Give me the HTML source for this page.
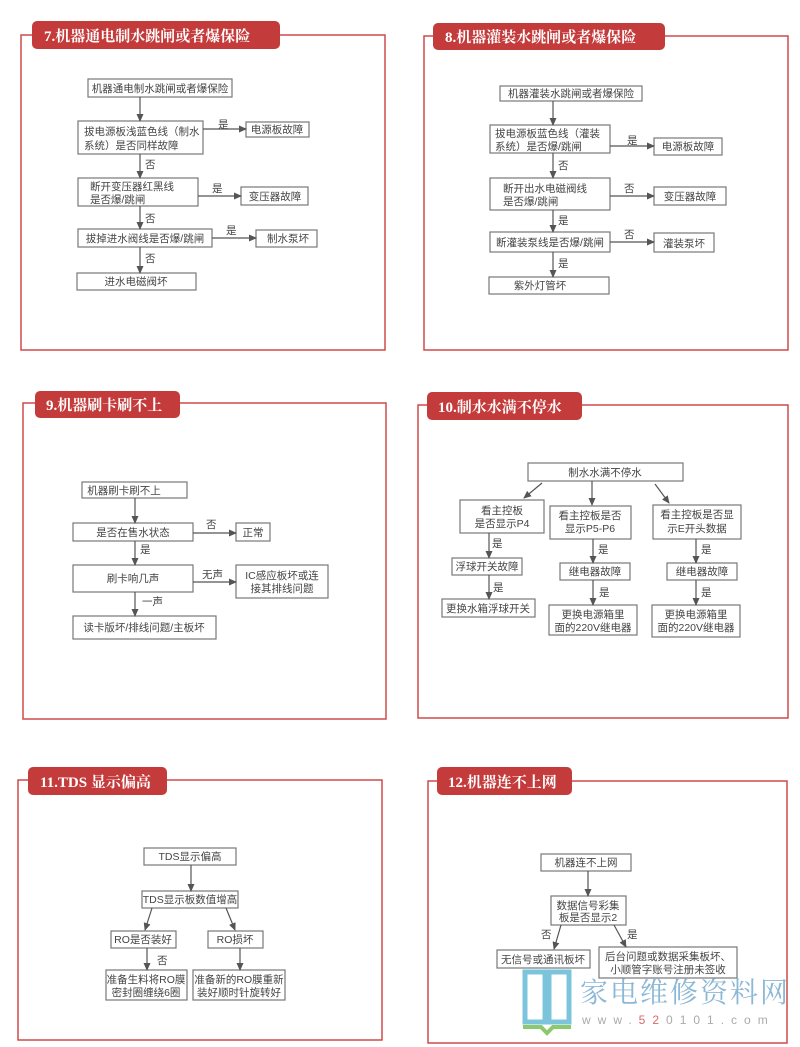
<!DOCTYPE html>
<html><head><meta charset="utf-8"><style>
html,body{margin:0;padding:0;background:#fff;}
svg{display:block}
text{font-family:"Liberation Sans","Noto Sans CJK SC",sans-serif;}
.b{fill:#fff;stroke:#777;stroke-width:1.2}
.t{font-size:10.5px;fill:#444;text-anchor:middle}
.l{font-size:10.5px;fill:#444}
.ln{stroke:#555;stroke-width:1.2;fill:none;marker-end:url(#a)}
.fr{fill:none;stroke:#cf4a4a;stroke-width:1.5}
.tb{fill:#c43b3b}
.tt{font-size:15px;font-weight:bold;fill:#fff;font-family:"Liberation Serif","Noto Serif CJK SC",serif}
</style></head><body>
<svg width="800" height="1047" viewBox="0 0 800 1047" xmlns="http://www.w3.org/2000/svg">
<defs><marker id="a" markerWidth="8" markerHeight="8" refX="7" refY="4" orient="auto" markerUnits="userSpaceOnUse"><path d="M0,0.5 L8,4 L0,7.5z" fill="#555"/></marker></defs>

<!-- P7 -->
<rect class="fr" x="21" y="35" width="364" height="315"/>
<rect class="tb" x="32" y="21" width="248" height="28" rx="5"/>
<text class="tt" x="44" y="41">7.机器通电制水跳闸或者爆保险</text>
<rect class="b" x="88" y="79" width="144" height="18"/><text class="t" x="160" y="92">机器通电制水跳闸或者爆保险</text>
<rect class="b" x="78" y="121" width="125" height="33"/><text class="l" x="84" y="135">拔电源板浅蓝色线（制水</text><text class="l" x="84" y="149">系统）是否同样故障</text>
<rect class="b" x="246" y="122" width="63" height="15"/><text class="t" x="277" y="133">电源板故障</text>
<rect class="b" x="78" y="178" width="120" height="28"/><text class="l" x="90" y="190">断开变压器红黑线</text><text class="l" x="90" y="203">是否爆/跳闸</text>
<rect class="b" x="241" y="187" width="67" height="18"/><text class="t" x="275" y="200">变压器故障</text>
<rect class="b" x="78" y="229" width="134" height="18"/><text class="t" x="145" y="242">拔掉进水阀线是否爆/跳闸</text>
<rect class="b" x="256" y="230" width="61" height="17"/><text class="t" x="288" y="242">制水泵坏</text>
<rect class="b" x="77" y="273" width="119" height="17"/><text class="t" x="136" y="285">进水电磁阀坏</text>
<line class="ln" x1="140" y1="97" x2="140" y2="121"/>
<line class="ln" x1="140" y1="154" x2="140" y2="178"/>
<line class="ln" x1="140" y1="206" x2="140" y2="229"/>
<line class="ln" x1="140" y1="247" x2="140" y2="273"/>
<line class="ln" x1="203" y1="129" x2="246" y2="129"/>
<line class="ln" x1="198" y1="196" x2="241" y2="196"/>
<line class="ln" x1="212" y1="238" x2="256" y2="238"/>
<text class="l" x="218" y="128">是</text><text class="l" x="145" y="168">否</text>
<text class="l" x="212" y="192">是</text><text class="l" x="145" y="222">否</text>
<text class="l" x="226" y="234">是</text><text class="l" x="145" y="262">否</text>

<!-- P8 -->
<rect class="fr" x="424" y="36" width="364" height="314"/>
<rect class="tb" x="433" y="23" width="232" height="27" rx="5"/>
<text class="tt" x="445" y="42">8.机器灌装水跳闸或者爆保险</text>
<rect class="b" x="500" y="86" width="142" height="15"/><text class="t" x="571" y="97">机器灌装水跳闸或者爆保险</text>
<rect class="b" x="490" y="125" width="120" height="28"/><text class="l" x="495" y="137">拔电源板蓝色线（灌装</text><text class="l" x="495" y="150">系统）是否爆/跳闸</text>
<rect class="b" x="654" y="138" width="68" height="17"/><text class="t" x="688" y="150">电源板故障</text>
<rect class="b" x="490" y="178" width="120" height="32"/><text class="l" x="503" y="192">断开出水电磁阀线</text><text class="l" x="503" y="205">是否爆/跳闸</text>
<rect class="b" x="654" y="187" width="72" height="18"/><text class="t" x="690" y="200">变压器故障</text>
<rect class="b" x="490" y="232" width="120" height="20"/><text class="t" x="550" y="246">断灌装泵线是否爆/跳闸</text>
<rect class="b" x="654" y="233" width="60" height="19"/><text class="t" x="684" y="247">灌装泵坏</text>
<rect class="b" x="489" y="277" width="120" height="17"/><text class="t" x="540" y="289">紫外灯管坏</text>
<line class="ln" x1="553" y1="101" x2="553" y2="125"/>
<line class="ln" x1="553" y1="153" x2="553" y2="178"/>
<line class="ln" x1="553" y1="210" x2="553" y2="232"/>
<line class="ln" x1="553" y1="252" x2="553" y2="277"/>
<line class="ln" x1="610" y1="146" x2="654" y2="146"/>
<line class="ln" x1="610" y1="196" x2="654" y2="196"/>
<line class="ln" x1="610" y1="242" x2="654" y2="242"/>
<text class="l" x="627" y="144">是</text><text class="l" x="558" y="169">否</text>
<text class="l" x="624" y="192">否</text><text class="l" x="558" y="224">是</text>
<text class="l" x="624" y="238">否</text><text class="l" x="558" y="267">是</text>

<!-- P9 -->
<rect class="fr" x="23" y="403" width="363" height="316"/>
<rect class="tb" x="35" y="391" width="145" height="27" rx="5"/>
<text class="tt" x="46" y="410">9.机器刷卡刷不上</text>
<rect class="b" x="82" y="482" width="105" height="16"/><text class="t" x="124" y="494">机器刷卡刷不上</text>
<rect class="b" x="73" y="523" width="120" height="18"/><text class="t" x="133" y="536">是否在售水状态</text>
<rect class="b" x="236" y="523" width="34" height="18"/><text class="t" x="253" y="536">正常</text>
<rect class="b" x="73" y="565" width="120" height="27"/><text class="t" x="133" y="582">刷卡响几声</text>
<rect class="b" x="236" y="565" width="92" height="33"/><text class="t" x="282" y="579">IC感应板坏或连</text><text class="t" x="282" y="592">接其排线问题</text>
<rect class="b" x="73" y="616" width="143" height="23"/><text class="t" x="144" y="631">读卡版坏/排线问题/主板坏</text>
<line class="ln" x1="135" y1="498" x2="135" y2="523"/>
<line class="ln" x1="135" y1="541" x2="135" y2="565"/>
<line class="ln" x1="135" y1="592" x2="135" y2="616"/>
<line class="ln" x1="193" y1="533" x2="236" y2="533"/>
<line class="ln" x1="193" y1="582" x2="236" y2="582"/>
<text class="l" x="206" y="528">否</text><text class="l" x="140" y="553">是</text>
<text class="l" x="202" y="578">无声</text><text class="l" x="142" y="605">一声</text>

<!-- P10 -->
<rect class="fr" x="418" y="405" width="370" height="313"/>
<rect class="tb" x="427" y="392" width="155" height="28" rx="5"/>
<text class="tt" x="438" y="412">10.制水水满不停水</text>
<rect class="b" x="528" y="463" width="155" height="18"/><text class="t" x="605" y="476">制水水满不停水</text>
<rect class="b" x="460" y="500" width="84" height="33"/><text class="t" x="502" y="514">看主控板</text><text class="t" x="502" y="527">是否显示P4</text>
<rect class="b" x="550" y="506" width="81" height="33"/><text class="t" x="590" y="519">看主控板是否</text><text class="t" x="590" y="532">显示P5-P6</text>
<rect class="b" x="653" y="505" width="88" height="34"/><text class="t" x="697" y="518">看主控板是否显</text><text class="t" x="697" y="532">示E开头数据</text>
<rect class="b" x="452" y="558" width="70" height="17"/><text class="t" x="487" y="570">浮球开关故障</text>
<rect class="b" x="560" y="563" width="70" height="17"/><text class="t" x="595" y="575">继电器故障</text>
<rect class="b" x="667" y="563" width="70" height="17"/><text class="t" x="702" y="575">继电器故障</text>
<rect class="b" x="442" y="599" width="93" height="18"/><text class="t" x="488" y="612">更换水箱浮球开关</text>
<rect class="b" x="549" y="605" width="88" height="30"/><text class="t" x="593" y="618">更换电源箱里</text><text class="t" x="593" y="631">面的220V继电器</text>
<rect class="b" x="652" y="605" width="88" height="32"/><text class="t" x="696" y="618">更换电源箱里</text><text class="t" x="696" y="631">面的220V继电器</text>
<line class="ln" x1="542" y1="483" x2="524" y2="498"/>
<line class="ln" x1="592" y1="481" x2="592" y2="505"/>
<line class="ln" x1="655" y1="484" x2="669" y2="503"/>
<line class="ln" x1="489" y1="533" x2="489" y2="558"/>
<line class="ln" x1="489" y1="575" x2="489" y2="599"/>
<line class="ln" x1="593" y1="539" x2="593" y2="563"/>
<line class="ln" x1="593" y1="580" x2="593" y2="605"/>
<line class="ln" x1="696" y1="539" x2="696" y2="563"/>
<line class="ln" x1="696" y1="580" x2="696" y2="605"/>
<text class="l" x="492" y="547">是</text><text class="l" x="493" y="591">是</text>
<text class="l" x="598" y="553">是</text><text class="l" x="599" y="596">是</text>
<text class="l" x="701" y="553">是</text><text class="l" x="701" y="596">是</text>

<!-- P11 -->
<rect class="fr" x="18" y="780" width="364" height="260"/>
<rect class="tb" x="28" y="767" width="139" height="28" rx="5"/>
<text class="tt" x="40" y="787">11.TDS 显示偏高</text>
<rect class="b" x="144" y="848" width="92" height="17"/><text class="t" x="190" y="860">TDS显示偏高</text>
<rect class="b" x="142" y="891" width="96" height="17"/><text class="t" x="190" y="903">TDS显示板数值增高</text>
<rect class="b" x="111" y="931" width="65" height="17"/><text class="t" x="143" y="943">RO是否装好</text>
<rect class="b" x="208" y="931" width="55" height="17"/><text class="t" x="235" y="943">RO损坏</text>
<rect class="b" x="106" y="970" width="81" height="30"/><text class="t" x="146" y="983">准备生料将RO膜</text><text class="t" x="146" y="996">密封圈缠绕6圈</text>
<rect class="b" x="193" y="970" width="92" height="30"/><text class="t" x="239" y="983">准备新的RO膜重新</text><text class="t" x="239" y="996">装好顺时针旋转好</text>
<line class="ln" x1="191" y1="865" x2="191" y2="891"/>
<line class="ln" x1="152" y1="908" x2="145" y2="930"/>
<line class="ln" x1="226" y1="908" x2="235" y2="930"/>
<line class="ln" x1="147" y1="948" x2="147" y2="970"/>
<line class="ln" x1="240" y1="948" x2="240" y2="970"/>
<text class="l" x="157" y="964">否</text>

<!-- P12 -->
<rect class="fr" x="428" y="781" width="359" height="262"/>
<rect class="tb" x="437" y="767" width="135" height="28" rx="5"/>
<text class="tt" x="448" y="787">12.机器连不上网</text>
<rect class="b" x="541" y="854" width="90" height="17"/><text class="t" x="586" y="866">机器连不上网</text>
<rect class="b" x="551" y="896" width="75" height="29"/><text class="t" x="588" y="909">数据信号彩集</text><text class="t" x="588" y="921">板是否显示2</text>
<rect class="b" x="497" y="950" width="93" height="18"/><text class="t" x="543" y="963">无信号或通讯板坏</text>
<rect class="b" x="599" y="947" width="138" height="31"/><text class="t" x="668" y="960">后台问题或数据采集板坏、</text><text class="t" x="668" y="973">小顺管字账号注册未签收</text>
<line class="ln" x1="588" y1="871" x2="588" y2="896"/>
<line class="ln" x1="561" y1="925" x2="554" y2="949"/>
<line class="ln" x1="614" y1="925" x2="626" y2="947"/>
<text class="l" x="541" y="938">否</text><text class="l" x="627" y="938">是</text>

<!-- logo -->
<rect x="525" y="972" width="20" height="50" fill="none" stroke="#7cc4dc" stroke-width="5"/>
<rect x="549" y="972" width="20" height="50" fill="none" stroke="#7cc4dc" stroke-width="5"/>
<path d="M523,1027 L541,1027 L547,1033 L553,1027 L571,1027" stroke="#8cc86c" stroke-width="4" fill="none"/>
<text x="580" y="1002" style="font-size:28px;fill:#8bb8d6;font-family:'Noto Serif CJK SC',serif;letter-spacing:2px">家电维修资料网</text>
<text x="582" y="1024" style="font-size:12px;fill:#aaa;letter-spacing:7px">www.<tspan fill="#d86a6a">52</tspan>0101.com</text>
</svg>
</body></html>
